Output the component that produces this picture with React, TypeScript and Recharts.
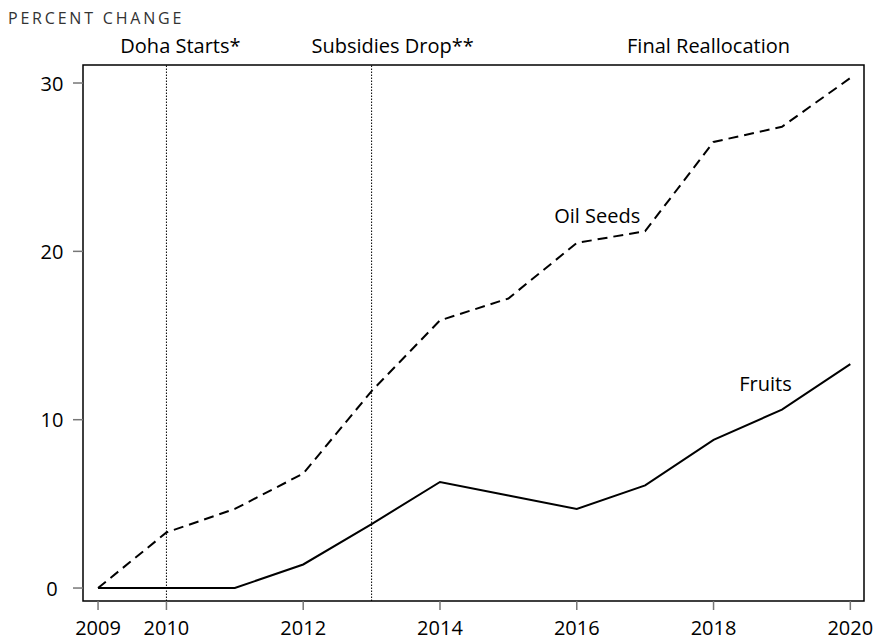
import React from 'react';
import { LineChart, Line, XAxis, YAxis, ReferenceLine, ReferenceDot, ReferenceArea } from 'recharts';

const years = [2009, 2010, 2011, 2012, 2013, 2014, 2015, 2016, 2017, 2018, 2019, 2020];
const oilSeeds = [0, 3.3, 4.7, 6.8, 11.7, 15.9, 17.2, 20.5, 21.2, 26.5, 27.4, 30.3];
const fruits = [0, 0, 0, 1.4, 3.8, 6.3, 5.5, 4.7, 6.1, 8.8, 10.6, 13.3];

const xTicks = [2009, 2010, 2012, 2014, 2016, 2018, 2020];
const yTicks = [0, 10, 20, 30];

const events = [
  { year: 2010, label: 'Doha Starts*', line: true, dx: 14 },
  { year: 2013, label: 'Subsidies Drop**', line: true, dx: 21 },
  { year: 2018, label: 'Final Reallocation', line: false, dx: -5 },
];

const seriesLabels = [
  { x: 2016.3, y: 22.1, text: 'Oil Seeds' },
  { x: 2018.76, y: 12.1, text: 'Fruits' },
];

const data = years.map((year, i) => ({ year, oil: oilSeeds[i], fruits: fruits[i] }));

const FONT = '"Open Sans", "Noto Sans", sans-serif';
const FS = 20;
const xDomain: [number, number] = [2008.78, 2020.2];
const yDomain: [number, number] = [-0.77, 31.07];

const YTick = (props: any) => {
  const { y, payload } = props;
  return (
    <text x={52} y={y} textAnchor="middle" dominantBaseline="central" fontSize={FS} fill="#000" fontFamily={FONT}>
      {payload.value}
    </text>
  );
};

const App: React.FC = () => {
  return (
    <div style={{ position: 'absolute', left: 0, top: 0, width: 878, height: 641, background: '#fff', fontFamily: FONT }}>
      <div style={{ position: 'absolute', left: 8, top: 7, fontSize: 16, letterSpacing: 2.8, color: '#333' }}>
        PERCENT CHANGE
      </div>
      <LineChart width={878} height={641} data={data} margin={{ top: 65, right: 14, bottom: 0, left: 0 }}>
        <XAxis
          dataKey="year"
          type="number"
          domain={xDomain}
          ticks={xTicks}
          allowDataOverflow
          height={40}
          tickSize={9}
          tickMargin={11}
          axisLine={false}
          tickLine={{ stroke: '#777', strokeWidth: 1.5 }}
          tick={{ fontSize: FS, fill: '#000', fontFamily: FONT }}
        />
        <YAxis
          type="number"
          domain={yDomain}
          ticks={yTicks}
          allowDataOverflow
          width={83}
          tickSize={10}
          axisLine={false}
          tickLine={{ stroke: '#777', strokeWidth: 1.5 }}
          tick={<YTick />}
        />
        <ReferenceArea
          x1={xDomain[0]}
          x2={xDomain[1]}
          y1={yDomain[0]}
          y2={yDomain[1]}
          fill="none"
          stroke="#000"
          strokeWidth={1.5}
          ifOverflow="visible"
        />
        {events.map((e) => (
          <ReferenceLine
            key={e.label}
            x={e.year}
            stroke={e.line ? '#000' : 'none'}
            strokeWidth={1}
            strokeDasharray="1.5 1.5"
            label={{ value: e.label, position: 'top', offset: 12, dx: e.dx, fontSize: FS, fill: '#000', fontFamily: FONT }}
          />
        ))}
        <Line
          dataKey="oil"
          stroke="#000"
          strokeWidth={2}
          strokeDasharray="10 6"
          dot={false}
          isAnimationActive={false}
        />
        <Line dataKey="fruits" stroke="#000" strokeWidth={2} dot={false} isAnimationActive={false} />
        {seriesLabels.map((s) => (
          <ReferenceDot
            key={s.text}
            x={s.x}
            y={s.y}
            r={0}
            fill="none"
            stroke="none"
            label={{ value: s.text, position: 'center', fontSize: FS, fill: '#000', fontFamily: FONT }}
          />
        ))}
      </LineChart>
    </div>
  );
};

export default App;
